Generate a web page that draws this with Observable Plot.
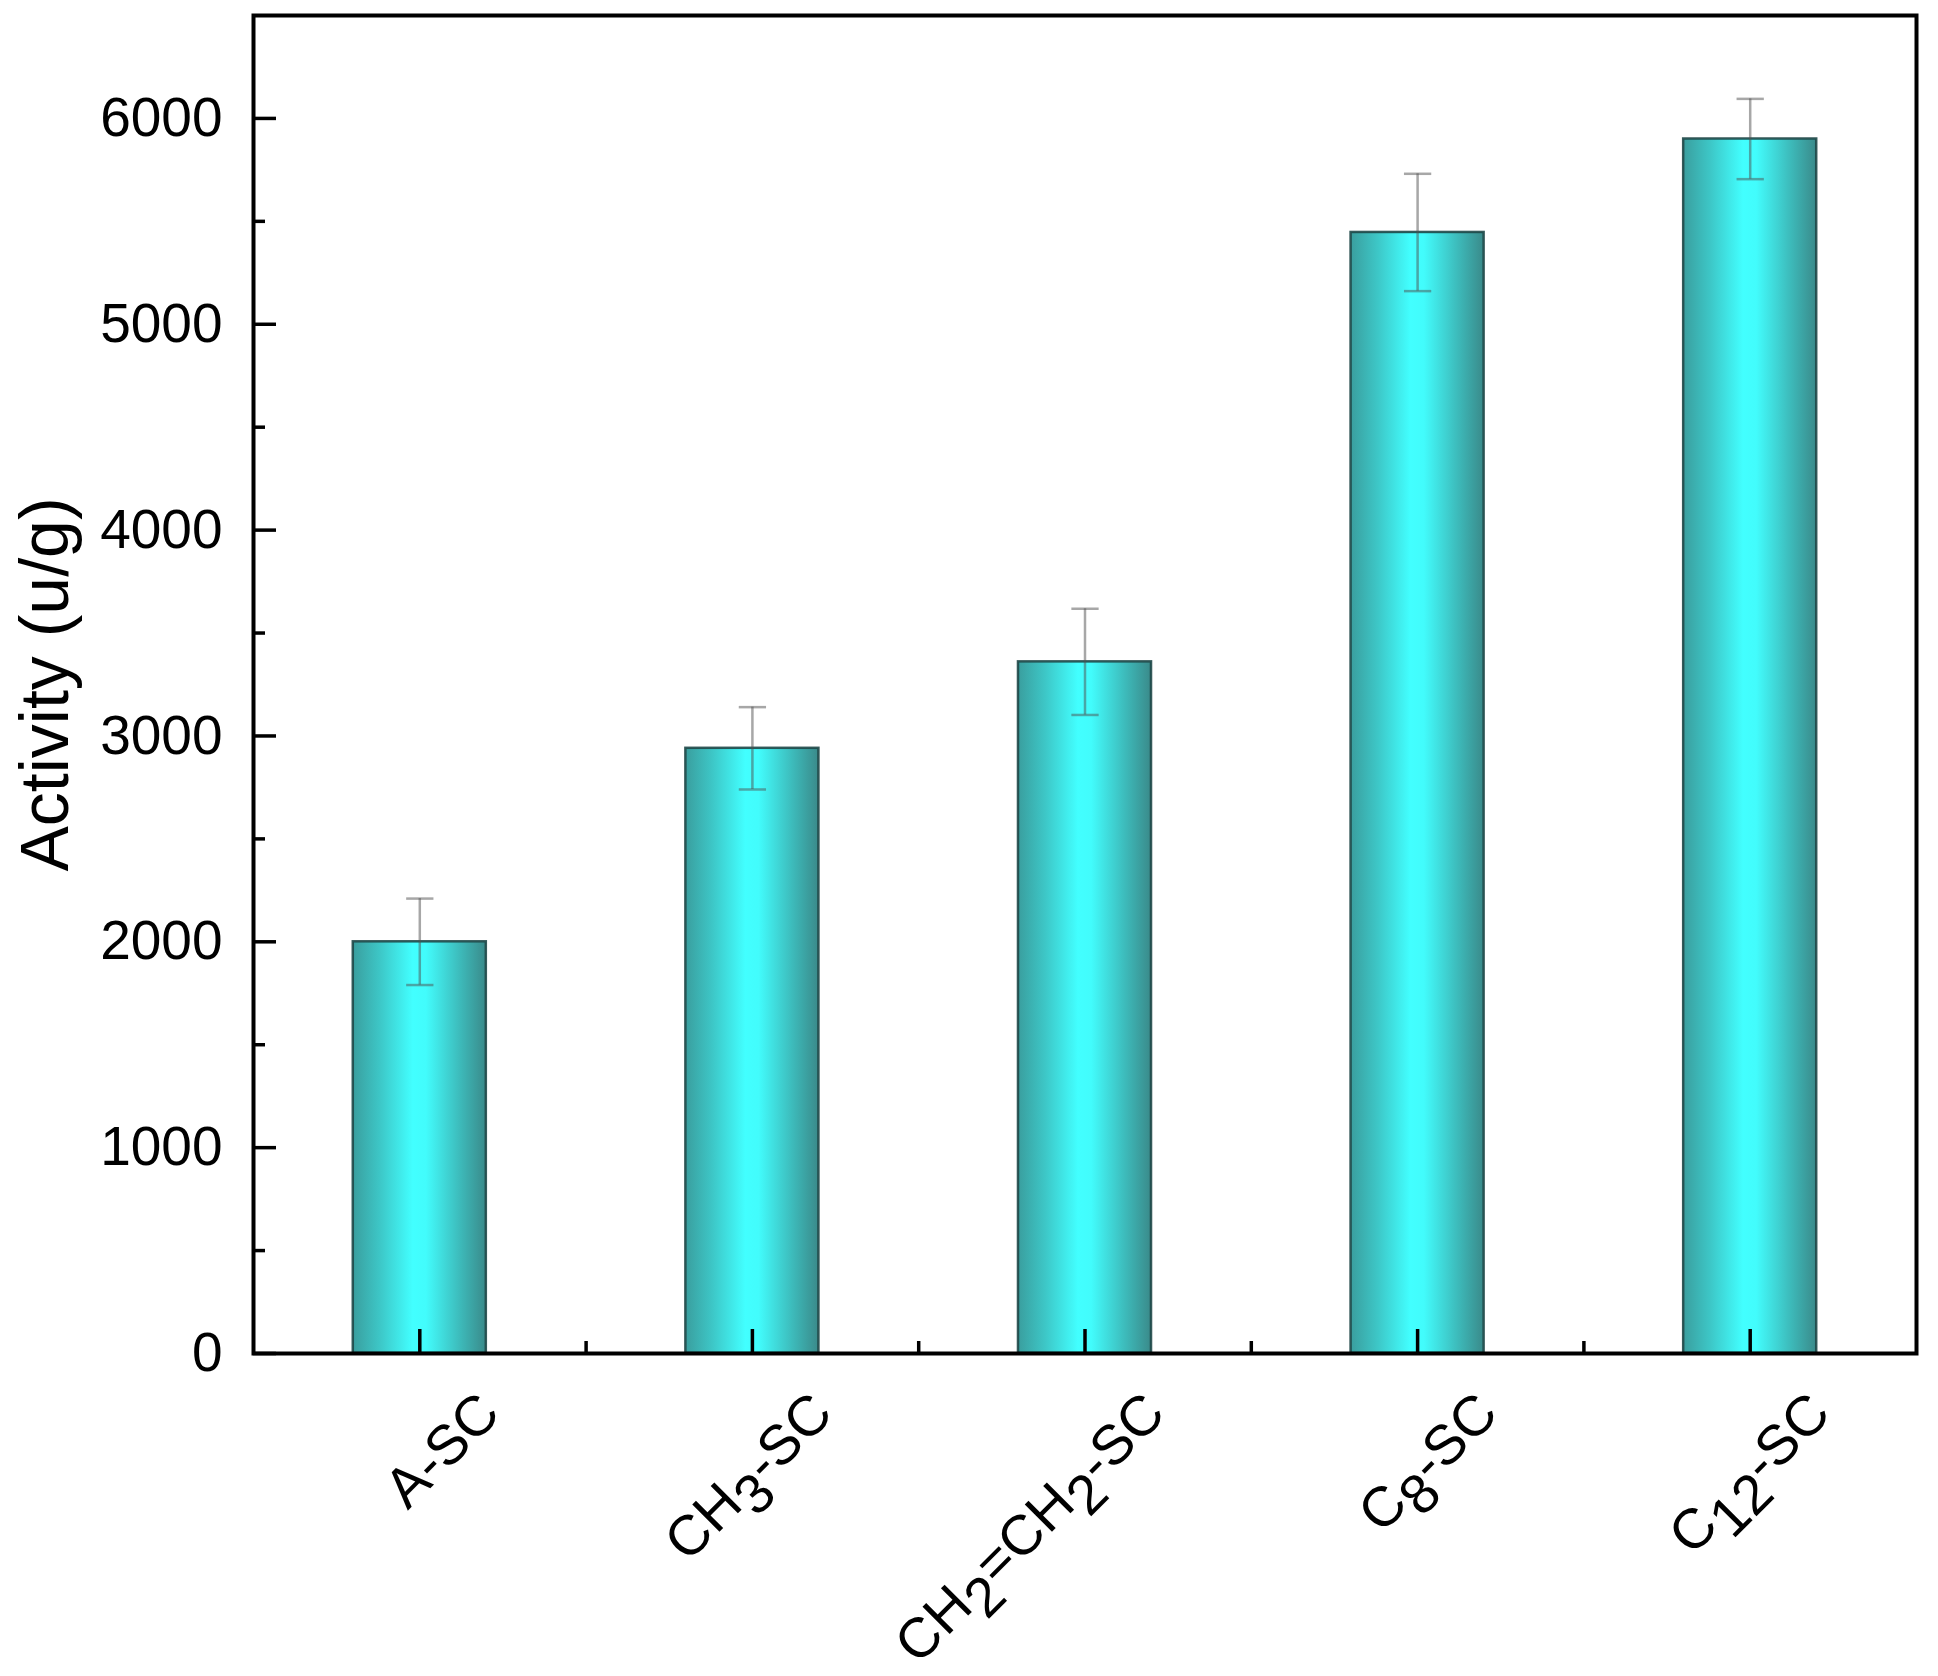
<!DOCTYPE html>
<html><head><meta charset="utf-8">
<script src="https://cdn.jsdelivr.net/npm/d3@7"></script>
<script src="https://cdn.jsdelivr.net/npm/@observablehq/plot@0.6"></script>
<style>html,body{margin:0;padding:0;background:#fff;overflow:hidden}</style>
</head><body><div id="chart"></div>
<script>
const categories = ["A-SC", "CH3-SC", "CH2=CH2-SC", "C8-SC", "C12-SC"];
const activity = [2000, 2940, 3360, 5446, 5900];
const errors = [210, 200, 258, 285, 195];
const yMajorTicks = [0, 1000, 2000, 3000, 4000, 5000, 6000];
const yMinorTicks = [500, 1500, 2500, 3500, 4500, 5500];
const yLabel = "Activity (u/g)";

const data = categories.map((c, i) => ({category: c, pos: i + 1, value: activity[i], err: errors[i]}));
const xMajor = data.map(d => d.pos);
const xMinor = xMajor.slice(0, -1).map(p => p + 0.5);
const halfBar = 0.2, halfCap = 0.041;
const caps = data.flatMap(d => [d.value - d.err, d.value + d.err].map(y => ({pos: d.pos, y})));

const font = "'Liberation Sans', Arial, Helvetica, sans-serif";
const plot = Plot.plot({
  width: 1938, height: 1676,
  marginLeft: 253, marginRight: 22, marginTop: 15, marginBottom: 323,
  style: {fontFamily: font, background: "white", color: "black"},
  x: {domain: [0.5, 5.5], axis: null},
  y: {domain: [0, 6500], axis: null},
  marks: [
    Plot.rectY(data, {x1: d => d.pos - halfBar, x2: d => d.pos + halfBar, y1: 0, y2: "value",
      fill: "url(#barGrad)", stroke: "#1f4848", strokeWidth: 2.5, strokeOpacity: 0.9}),
    Plot.ruleX(data, {x: "pos", y1: d => d.value - d.err, y2: d => d.value + d.err,
      stroke: "#505050", strokeOpacity: 0.5, strokeWidth: 2.5}),
    Plot.link(caps, {x1: d => d.pos - halfCap, x2: d => d.pos + halfCap, y1: "y", y2: "y",
      stroke: "#505050", strokeOpacity: 0.5, strokeWidth: 2.5}),
    Plot.axisY({ticks: yMajorTicks, tickSize: -23, fill: "none", strokeWidth: 3.5, label: null}),
    Plot.axisY({ticks: yMinorTicks, tickSize: -12, fill: "none", strokeWidth: 3.5, label: null}),
    Plot.axisY({ticks: yMajorTicks, tickSize: 0, tickPadding: 31, fontSize: 55, label: null, tickFormat: d => String(d)}),
    Plot.axisX({ticks: xMajor, tickSize: -24, fill: "none", strokeWidth: 3.5, label: null}),
    Plot.axisX({ticks: xMinor, tickSize: -12, fill: "none", strokeWidth: 3.5, label: null}),
    Plot.axisX({ticks: xMajor, tickSize: 0, tickPadding: 0, tickRotate: -45, textAnchor: "end", lineAnchor: "middle",
      dx: 70, dy: 50, fontSize: 56, label: null, tickFormat: p => categories[p - 1]}),
    Plot.text([yLabel], {frameAnchor: "left", text: d => d, rotate: -90, dx: -186, textAnchor: "middle", lineAnchor: "bottom", fontSize: 68, fill: "black"}),
    Plot.frame({stroke: "black", strokeWidth: 4})
  ]
});

const ns = "http://www.w3.org/2000/svg";
const defs = document.createElementNS(ns, "defs");
defs.innerHTML = `<linearGradient id="barGrad" x1="0" x2="1" y1="0" y2="0">
  <stop offset="0" stop-color="#3a9e9e"/>
  <stop offset="0.2" stop-color="#3dc6c6"/>
  <stop offset="0.45" stop-color="#42ffff"/>
  <stop offset="0.55" stop-color="#42fcfc"/>
  <stop offset="0.8" stop-color="#3dbcbc"/>
  <stop offset="1" stop-color="#3a8a8a"/>
</linearGradient>`;
plot.insertBefore(defs, plot.firstChild);

// subscripts in category labels
plot.querySelectorAll('g[aria-label="x-axis tick label"] text').forEach(t => {
  const s = t.textContent;
  const parts = s.split(/(\d+)/).filter(p => p !== "");
  t.textContent = "";
  let sub = false;
  parts.forEach(p => {
    const ts = document.createElementNS(ns, "tspan");
    const isDigit = /^\d+$/.test(p);
    if (isDigit && !sub) { ts.setAttribute("dy", "0.3em"); sub = true; }
    else if (!isDigit && sub) { ts.setAttribute("dy", "-0.3em"); sub = false; }
    ts.textContent = p;
    t.appendChild(ts);
  });
});

document.getElementById("chart").appendChild(plot);
</script>
</body></html>
